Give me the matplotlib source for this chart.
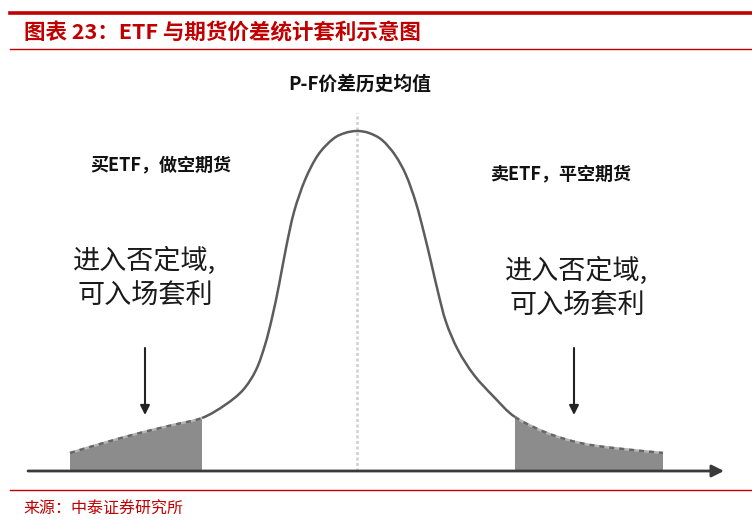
import matplotlib
matplotlib.use("Agg")
import matplotlib.pyplot as plt
from matplotlib.path import Path
from matplotlib.patches import PathPatch
import numpy as np

plt.rcParams['font.family'] = ['Noto Sans CJK SC', 'DejaVu Sans']

# ---- data (curve: offset from mean, height) ----
curve_x = [-287, -250, -217, -184, -155, -132, -114, -101, -92, -85, -78, -71, -63, -52, -39,
           -24, -12, 0, 12, 25, 38, 49, 59, 67, 74, 81, 89, 101, 117, 137,
           158, 190, 223, 256, 306]
curve_y = [18, 29, 38, 46, 53, 66, 81, 101, 126, 153, 186, 223, 259, 291, 316,
           332, 338, 340, 338, 331, 316, 296, 268, 238, 209, 179, 149, 121, 96, 74,
           54, 38, 28, 23, 18]
left_cut = -155
right_cut = 158

title = "图表 23：ETF 与期货价差统计套利示意图"
source = "来源：中泰证券研究所"
mean_label = "P-F价差历史均值"
left_label = "买ETF，做空期货"
right_label = "卖ETF，平空期货"
region_label = "进入否定域,\n可入场套利"

RED = '#c00000'

W, H = 752, 526
fig = plt.figure(figsize=(W / 100, H / 100), dpi=100)
ax = fig.add_axes([0, 0, 1, 1])
ax.set_xlim(-357, W - 357)
ax.set_ylim(471 - H, 471)
ax.axis('off')

P = np.column_stack([curve_x, curve_y]).astype(float)
n = len(P)


def smooth_path(i0, i1):
    """Catmull-Rom style Bezier through the read points i0..i1 (rendering only)."""
    verts = [P[i0]]
    codes = [Path.MOVETO]
    for i in range(i0, i1):
        p0 = P[max(i - 1, 0)]
        p1 = P[i]
        p2 = P[i + 1]
        p3 = P[min(i + 2, n - 1)]
        c1 = p1 + (p2 - p0) / 6.0
        c2 = p2 - (p3 - p1) / 6.0
        verts += [c1, c2, p2]
        codes += [Path.CURVE4] * 3
    return verts, codes


def fill_path(i0, i1):
    verts, codes = smooth_path(i0, i1)
    verts = verts + [(P[i1][0], 0), (P[i0][0], 0), P[i0]]
    codes = codes + [Path.LINETO, Path.LINETO, Path.CLOSEPOLY]
    return Path(verts, codes)


il = curve_x.index(left_cut)
ir = curve_x.index(right_cut)

# shaded tails
for a, b in ((0, il), (ir, n - 1)):
    ax.add_patch(PathPatch(fill_path(a, b), facecolor='#8c8c8c', edgecolor='none', zorder=2))

# center dashed line
ax.plot([0, 0], [0, 358], color='#cfcfcf', lw=1.8, ls=(0, (1.2, 1.0)), zorder=1)

# curve
v, c = smooth_path(il, ir)
ax.add_patch(PathPatch(Path(v, c), facecolor='none', edgecolor='#5c5c5c', lw=1.8, zorder=3))
for a, b in ((0, il), (ir, n - 1)):
    v, c = smooth_path(a, b)
    ax.add_patch(PathPatch(Path(v, c), facecolor='none', edgecolor='#b4b4b4', lw=1.8, zorder=3))
    ax.add_patch(PathPatch(Path(v, c), facecolor='none', edgecolor='#666666', lw=1.8,
                           ls=(0, (2, 2)), zorder=4))

# x axis with arrow
ax.annotate('', xy=(367, 0), xytext=(-329, 0),
            arrowprops=dict(arrowstyle='-|>', color='#3a3a3a', lw=2.0,
                            mutation_scale=18, shrinkA=0, shrinkB=0), zorder=5)

# vertical arrows
for ax_x in (-212, 217):
    ax.annotate('', xy=(ax_x, 56), xytext=(ax_x, 123),
                arrowprops=dict(arrowstyle='-|>', color='#222222', lw=1.5,
                                mutation_scale=14, shrinkA=0, shrinkB=0), zorder=5)


def px(xp, yp):
    return xp - 357, 471 - yp


ax.text(*px(360, 84), mean_label, ha='center', va='center', fontsize=13.5,
        fontweight='bold', color='#111111')
ax.text(*px(161, 165), left_label, ha='center', va='center', fontsize=13,
        fontweight='bold', color='#111111')
ax.text(*px(561, 174), right_label, ha='center', va='center', fontsize=13,
        fontweight='bold', color='#111111')
ax.text(*px(145, 278), region_label, ha='center', va='center', fontsize=19.5,
        color='#1a1a1a', linespacing=1.4, multialignment='center')
ax.text(*px(577, 288), region_label, ha='center', va='center', fontsize=19.5,
        color='#1a1a1a', linespacing=1.4, multialignment='center')


def fx(p):
    return p / W


def fy(p):
    return 1 - p / H


fig.add_artist(plt.Line2D([fx(10), 1], [fy(13), fy(13)], color=RED, lw=2.6))
fig.add_artist(plt.Line2D([fx(10), 1], [fy(49), fy(49)], color=RED, lw=1.0))
fig.add_artist(plt.Line2D([fx(10), 1], [fy(490), fy(490)], color=RED, lw=1.0))
fig.text(fx(24), fy(33), title, ha='left', va='center', fontsize=15.5,
         fontweight='bold', color=RED)
fig.text(fx(23), fy(509), source, ha='left', va='center', fontsize=11.5, color=RED)

fig.savefig('out.png', dpi=100)
